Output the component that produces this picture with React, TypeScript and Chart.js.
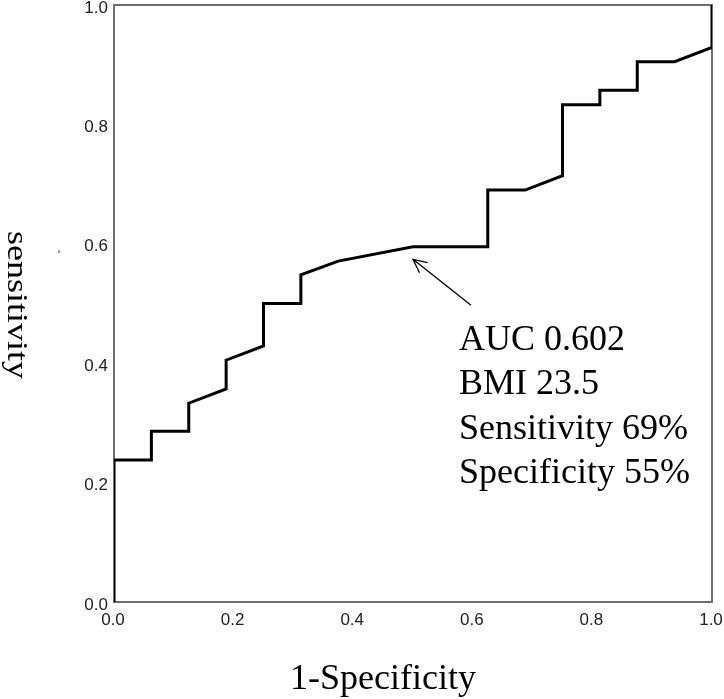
import React, { useEffect, useRef } from "react";
import { Chart, registerables } from "chart.js";

Chart.register(...registerables);

// ROC curve points (1-Specificity, Sensitivity)
const fprValues = [0, 0, 0.0625, 0.0625, 0.125, 0.125, 0.1875, 0.1875, 0.25, 0.25, 0.3125, 0.3125, 0.375, 0.5, 0.625, 0.625, 0.6875, 0.75, 0.75, 0.8125, 0.8125, 0.875, 0.875, 0.9375, 1, 1];
const tprValues = [0, 0.238, 0.238, 0.286, 0.286, 0.333, 0.357, 0.405, 0.429, 0.5, 0.5, 0.548, 0.571, 0.595, 0.595, 0.69, 0.69, 0.714, 0.833, 0.833, 0.857, 0.857, 0.905, 0.905, 0.929, 1];

const tickValues = [0, 0.2, 0.4, 0.6, 0.8, 1.0];
const xTitle = "1-Specificity";
const yTitle = "sensitivity";
const annotationLines = ["AUC 0.602", "BMI 23.5", "Sensitivity 69%", "Specificity 55%"];
// arrow tip / tail and text anchor in data coordinates
const arrowTip = [0.5, 0.574];
const arrowTail = [0.597, 0.497];
const textAnchor = [0.577, 0.422];

const SERIF = '"Liberation Serif", "Times New Roman", serif';
const SANS = '"Liberation Sans", Arial, sans-serif';

const decorPlugin = {
  id: "decor",
  beforeDatasetsDraw(chart: any) {
    const { ctx, chartArea } = chart;
    ctx.save();
    ctx.strokeStyle = "#6e6e6e";
    ctx.lineWidth = 2;
    ctx.strokeRect(chartArea.left, chartArea.top, chartArea.right - chartArea.left, chartArea.bottom - chartArea.top);
    ctx.restore();
  },
  afterDatasetsDraw(chart: any) {
    const { ctx, scales, chartArea } = chart;
    const xs = scales.x;
    const ys = scales.y;
    ctx.save();
    // arrow
    const tx = xs.getPixelForValue(arrowTip[0]);
    const ty = ys.getPixelForValue(arrowTip[1]);
    const sx = xs.getPixelForValue(arrowTail[0]);
    const sy = ys.getPixelForValue(arrowTail[1]);
    ctx.strokeStyle = "#000";
    ctx.lineWidth = 1.3;
    ctx.beginPath();
    ctx.moveTo(sx, sy);
    ctx.lineTo(tx, ty);
    const ang = Math.atan2(sy - ty, sx - tx);
    const len = 15;
    const spread = 0.45;
    ctx.moveTo(tx + len * Math.cos(ang - spread), ty + len * Math.sin(ang - spread));
    ctx.lineTo(tx, ty);
    ctx.lineTo(tx + len * Math.cos(ang + spread), ty + len * Math.sin(ang + spread));
    ctx.stroke();

    // annotation text
    ctx.fillStyle = "#000";
    ctx.font = `36px ${SERIF}`;
    ctx.textAlign = "left";
    ctx.textBaseline = "alphabetic";
    const ax = xs.getPixelForValue(textAnchor[0]);
    const ay = ys.getPixelForValue(textAnchor[1]);
    annotationLines.forEach((t, i) => ctx.fillText(t, ax, ay + i * 44.3));

    // axis titles
    ctx.textAlign = "center";
    ctx.fillText(xTitle, (chartArea.left + chartArea.right) / 2 - 30, 689);
    ctx.save();
    ctx.translate(8, 305);
    ctx.rotate(Math.PI / 2);
    ctx.scale(1, 0.8);
    ctx.textAlign = "center";
    ctx.textBaseline = "alphabetic";
    ctx.fillText(yTitle, 0, 0);
    ctx.restore();

    // small stray tick mark near the y title
    ctx.fillStyle = "#9a9a9a";
    ctx.fillRect(58, 250, 2, 3);
    ctx.restore();
  },
};

export default function App() {
  const ref = useRef<HTMLCanvasElement>(null);
  useEffect(() => {
    if (!ref.current) return;
    const points = fprValues.map((x, i) => ({ x, y: tprValues[i] }));
    const chart = new Chart(ref.current, {
      type: "scatter",
      data: {
        datasets: [
          {
            data: points,
            showLine: true,
            borderColor: "#000",
            borderWidth: 3,
            borderJoinStyle: "miter",
            pointRadius: 0,
            pointHoverRadius: 0,
            fill: false,
            tension: 0,
          },
        ],
      },
      options: {
        responsive: false,
        animation: false,
        devicePixelRatio: 1,
        layout: { padding: { left: 0, top: 5, right: 12, bottom: 0 } },
        plugins: { legend: { display: false }, tooltip: { enabled: false } },
        scales: {
          x: {
            type: "linear",
            min: 0,
            max: 1,
            afterBuildTicks: (s: any) => {
              s.ticks = tickValues.map((v) => ({ value: v }));
            },
            afterFit: (s: any) => {
              s.height = 97;
              s.paddingLeft = 0;
              s.paddingRight = 0;
            },
            grid: { display: false, drawTicks: false },
            border: { display: false },
            ticks: {
              padding: 8,
              labelOffset: -1,
              color: "#222",
              font: { family: SANS, size: 17 },
              callback: (v: any) => Number(v).toFixed(1),
            },
          },
          y: {
            type: "linear",
            min: 0,
            max: 1,
            afterBuildTicks: (s: any) => {
              s.ticks = tickValues.map((v) => ({ value: v }));
            },
            afterFit: (s: any) => {
              s.width = 114;
              s.paddingTop = 0;
              s.paddingBottom = 0;
            },
            grid: { display: false, drawTicks: false },
            border: { display: false },
            ticks: {
              padding: 6,
              labelOffset: 3,
              color: "#222",
              font: { family: SANS, size: 17 },
              callback: (v: any) => Number(v).toFixed(1),
            },
          },
        },
      },
      plugins: [decorPlugin],
    } as any);
    return () => chart.destroy();
  }, []);
  return (
    <div style={{ position: "fixed", left: 0, top: 0, width: 724, height: 699, background: "#fff" }}>
      <canvas ref={ref} width={724} height={699} style={{ display: "block" }} />
    </div>
  );
}
